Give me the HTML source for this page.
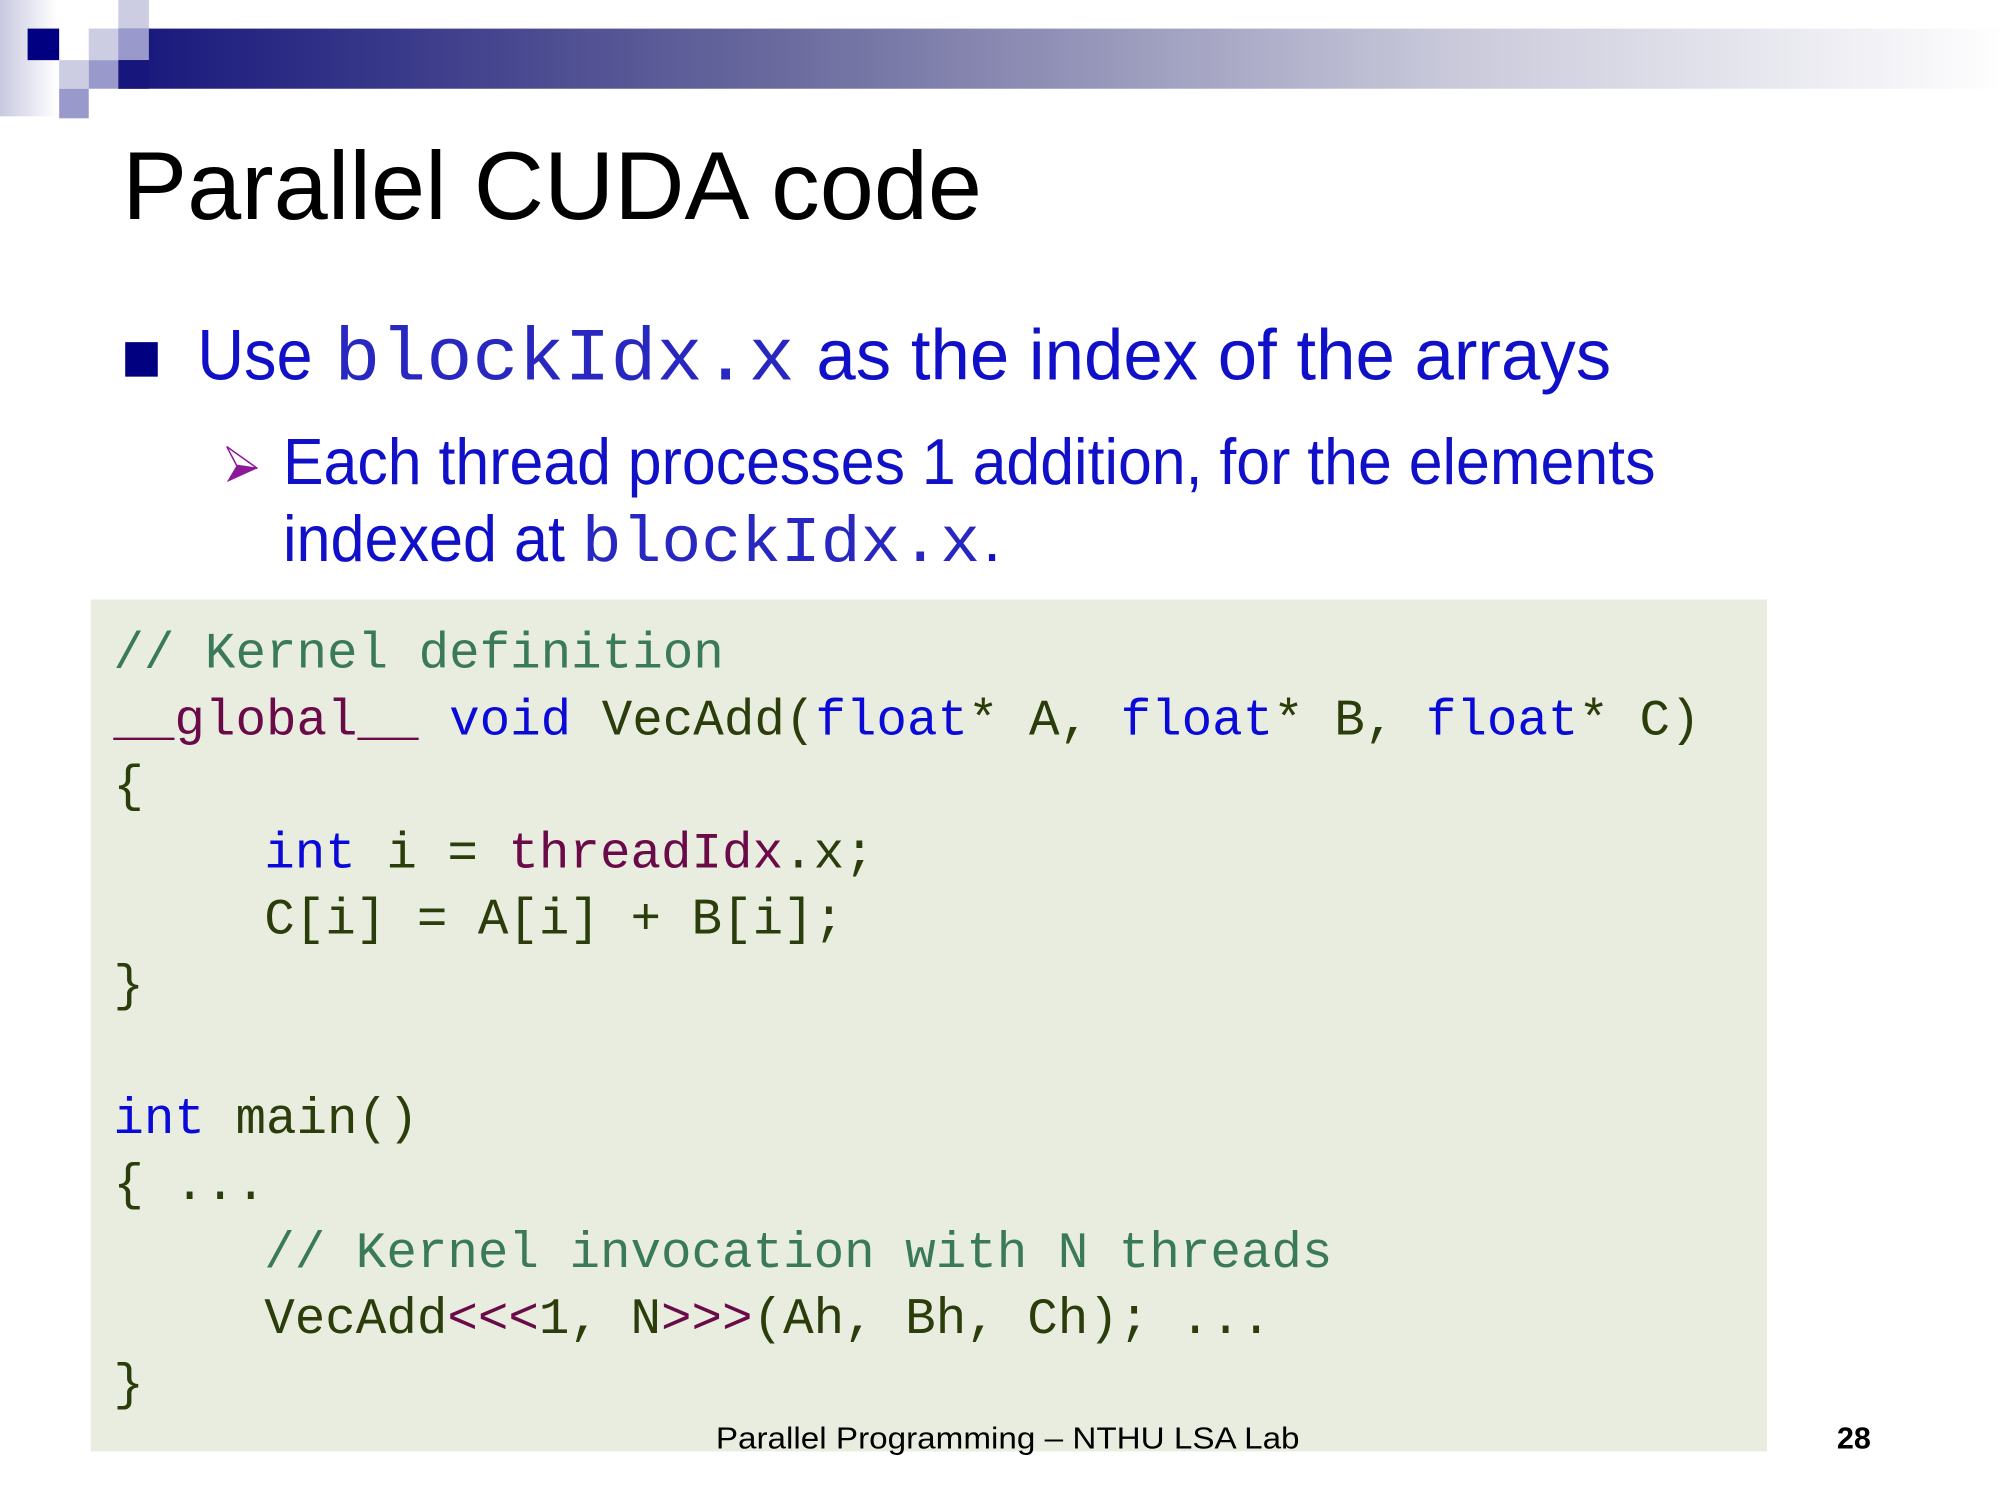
<!DOCTYPE html>
<html><head><meta charset="utf-8"><style>
html,body{margin:0;padding:0;background:#fff;}
svg{display:block;}
</style></head><body>
<svg width="2000" height="1500" viewBox="0 0 2000 1500" xmlns="http://www.w3.org/2000/svg">
<defs>
<linearGradient id="bar" x1="0" x2="1" y1="0" y2="0">
<stop offset="0" stop-color="#16167c"/>
<stop offset="0.35" stop-color="#6a6a9e"/>
<stop offset="0.7" stop-color="#c8c8da"/>
<stop offset="1" stop-color="#ffffff"/>
</linearGradient>
<linearGradient id="lft" x1="0" x2="1" y1="0" y2="0">
<stop offset="0" stop-color="#c8c8e0"/>
<stop offset="1" stop-color="#ffffff"/>
</linearGradient>
</defs>
<rect x="0" y="0" width="2000" height="1500" fill="#fff"/>
<g transform="scale(0.986)">
<rect x="0" y="0" width="58" height="118" fill="url(#lft)"/>
<rect x="120" y="29" width="1920" height="61" fill="url(#bar)"/>
<rect x="28" y="29" width="32" height="32" fill="#000080"/>
<rect x="90" y="29" width="30" height="32" fill="#ccccE2"/>
<rect x="120" y="0" width="31" height="29" fill="#ccccE2"/>
<rect x="120" y="29" width="31" height="32" fill="#9999cc"/>
<rect x="60" y="61" width="30" height="29" fill="#ccccE2"/>
<rect x="90" y="61" width="30" height="29" fill="#9999cc"/>
<rect x="120" y="61" width="31" height="29" fill="#16167c"/>
<rect x="60" y="90" width="30" height="30" fill="#9999cc"/>

<text x="124" y="222" font-family="Liberation Sans, sans-serif" font-size="98" fill="#000" textLength="872" lengthAdjust="spacingAndGlyphs">Parallel CUDA code</text>

<rect x="127" y="347" width="33" height="35" fill="#000080"/>
<g fill="#1010c8" font-family="Liberation Sans, sans-serif">
<text x="200" y="385" font-size="72" textLength="117" lengthAdjust="spacingAndGlyphs">Use</text>
<text x="339" y="385" font-size="76" font-family="Liberation Mono, monospace" fill="#2828c0" textLength="467" lengthAdjust="spacingAndGlyphs">blockIdx.x</text>
<text x="828" y="385" font-size="72" textLength="806" lengthAdjust="spacingAndGlyphs">as the index of the arrays</text>
<text x="287" y="491" font-size="66" textLength="1392" lengthAdjust="spacingAndGlyphs">Each thread processes 1 addition, for the elements</text>
<text x="287" y="569" font-size="66" textLength="286" lengthAdjust="spacingAndGlyphs">indexed at</text>
<text x="590" y="569" font-size="66" font-family="Liberation Mono, monospace" fill="#2828c0" textLength="404" lengthAdjust="spacingAndGlyphs">blockIdx.x</text>
<text x="997" y="569" font-size="66">.</text>
</g>
<polygon points="230,453 261,475 230,489 240,472" fill="#8a1a9a"/>
<polygon points="230,453 261,475 240,472" fill="#fff" stroke="#8a1a9a" stroke-width="1.5"/>

<rect x="92" y="608" width="1700" height="864" fill="#e9eddf"/>
<g font-family="Liberation Mono, monospace" font-size="51.6" fill="#2b3d0a" xml:space="preserve">
<text x="115" y="677" fill="#3a7a5a">// Kernel definition</text>
<text x="115" y="745"><tspan fill="#6a0a48">__global__</tspan> <tspan fill="#0a0ad8">void</tspan> VecAdd(<tspan fill="#0a0ad8">float</tspan>* A, <tspan fill="#0a0ad8">float</tspan>* B, <tspan fill="#0a0ad8">float</tspan>* C)</text>
<text x="115" y="812">{</text>
<text x="268" y="880"><tspan fill="#0a0ad8">int</tspan> i = <tspan fill="#6a0a48">threadIdx</tspan>.x;</text>
<text x="268" y="947">C[i] = A[i] + B[i];</text>
<text x="115" y="1014">}</text>
<text x="115" y="1149"><tspan fill="#0a0ad8">int</tspan> main()</text>
<text x="115" y="1216">{ ...</text>
<text x="268" y="1285" fill="#3a7a5a">// Kernel invocation with N threads</text>
<text x="268" y="1352">VecAdd<tspan fill="#6a0a48">&lt;&lt;&lt;</tspan>1, N<tspan fill="#6a0a48">&gt;&gt;&gt;</tspan>(Ah, Bh, Ch); ...</text>
<text x="115" y="1419">}</text>
</g>
<text x="1022" y="1469" text-anchor="middle" font-family="Liberation Sans, sans-serif" font-size="31" fill="#000" textLength="592" lengthAdjust="spacingAndGlyphs">Parallel Programming – NTHU LSA Lab</text>
<text x="1863" y="1469" font-family="Liberation Sans, sans-serif" font-size="31" font-weight="bold" fill="#000">28</text>
</g>
</svg>
</body></html>
